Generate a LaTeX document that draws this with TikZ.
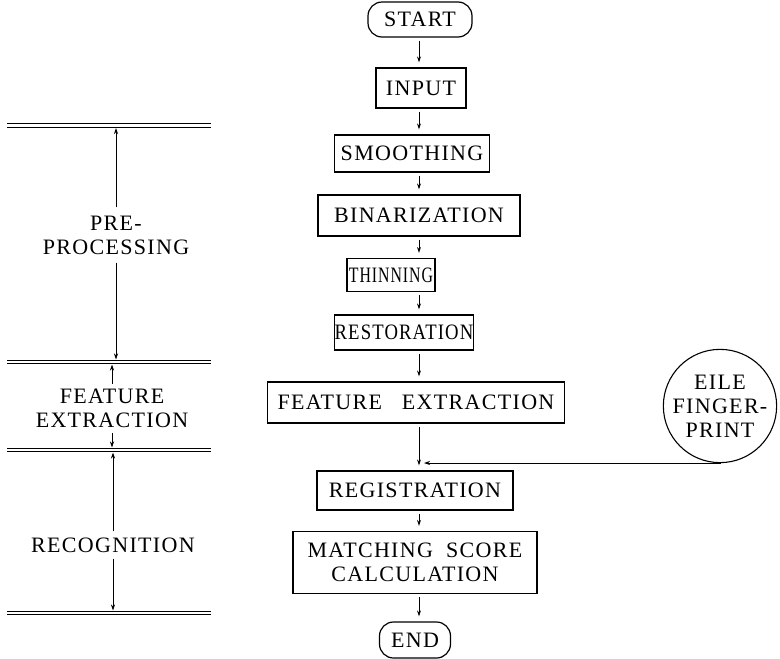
\documentclass[tikz,border=0pt]{standalone}
\usepackage{fontspec}
\setmainfont{Liberation Serif}[LetterSpace=6]
\usetikzlibrary{arrows.meta}
\usetikzlibrary{positioning}
\tikzstyle{proc_box} = [
    rectangle, 
    draw=black, 
    line width=1.2pt, 
    align=center, 
    inner sep=0pt, 
    minimum height=38pt
]
\tikzstyle{term_box} = [
    rectangle, 
    rounded corners=14pt, % nearly round ends
    draw=black, 
    line width=1.2pt, 
    inner sep=0pt, 
    minimum height=35pt
]
\tikzstyle{file_node} = [
    circle, 
    draw=black, 
    line width=1.1pt, 
    align=center, 
    inner sep=0pt, 
    minimum size=112pt
]
\tikzstyle{stage_label} = [
    align=center, 
    inner sep=2pt
]
\tikzstyle{sep_line} = [
    double, 
    double distance=2.6pt, 
    line width=0.9pt
]
\tikzstyle{flow} = [
    -{Stealth[length=6pt, width=4pt]}, 
    line width=0.9pt
]

\begin{document}
\begin{tikzpicture}[
    x=1pt, y=-1pt, 
    font=\fontsize{22}{24}\selectfont
]
\useasboundingbox (0,0) rectangle (780,659);
% main flow
\node [term_box, minimum width=104pt] (start) at (420,19.5) {START};
\node [proc_box, minimum width=90pt, minimum height=40pt] (input) at (421,88) {INPUT};
\node [proc_box, minimum width=155pt, minimum height=37pt] (smooth) at (412,153.5) {SMOOTHING};
\node [proc_box, minimum width=202pt, minimum height=41pt] (binar) at (419,215.5) {BINARIZATION};
\node [proc_box, minimum width=88pt, minimum height=33pt] (thin) at (391,275) {\scalebox{0.72}[1]{THINNING}};
\node [proc_box, minimum width=136pt, minimum height=35pt] (restor) at (404,332.5) {\scalebox{0.85}[1]{RESTORATION}};
\node [proc_box, minimum width=297pt, minimum height=41pt] (feat) at (416,402.5) {FEATURE\hspace{0.9em}EXTRACTION};
\node [proc_box, minimum width=196pt, minimum height=39pt] (regis) at (415,490.5) {REGISTRATION};
\node [proc_box, minimum width=244pt, minimum height=62pt] (match) at (415,562.5) {MATCHING\hspace{0.6em}SCORE\\CALCULATION};
\node [term_box, minimum width=71pt, minimum height=36pt] (end) at (415,640) {END};
\node [file_node] (file) at (720,406) {EILE\\FINGER-\\PRINT};

\coordinate (spine) at (419,0);
\foreach \a/\b in {start/input, input/smooth, smooth/binar, binar/thin, 
    thin/restor, restor/feat, feat/regis, regis/match, match/end}
    \draw [flow, shorten <=3pt, shorten >=5pt] (\a.south -| spine) -- (\b.north -| spine);
\coordinate (feed) at (424,463);
\draw [flow] (file.south) |- (feed);

% stages on the left
\foreach \y/\n in {125.5/b1, 362/b2, 450/b3, 613/b4}
    \draw [sep_line] (7,\y) coordinate (\n) -- (211,\y);
\node [stage_label] (pre) at (116,235) {PRE-\\PROCESSING};
\node [stage_label] (featlbl) at (112,408.5) {FEATURE\\EXTRACTION};
\node [stage_label] (recog) at (113,545) {RECOGNITION};

\draw [flow, shorten <=6pt, shorten >=2.5pt] (pre.north) -- (pre.north |- b1);
\draw [flow, shorten <=6pt, shorten >=2.5pt] (pre.south) -- (pre.south |- b2);
\draw [flow, shorten <=3pt, shorten >=2.5pt] (featlbl.north) -- (featlbl.north |- b2);
\draw [flow, shorten <=3pt, shorten >=2.5pt] (featlbl.south) -- (featlbl.south |- b3);
\draw [flow, shorten <=4pt, shorten >=2.5pt] (recog.north) -- (recog.north |- b3);
\draw [flow, shorten <=4pt, shorten >=2.5pt] (recog.south) -- (recog.south |- b4);
\end{tikzpicture}
\end{document}
